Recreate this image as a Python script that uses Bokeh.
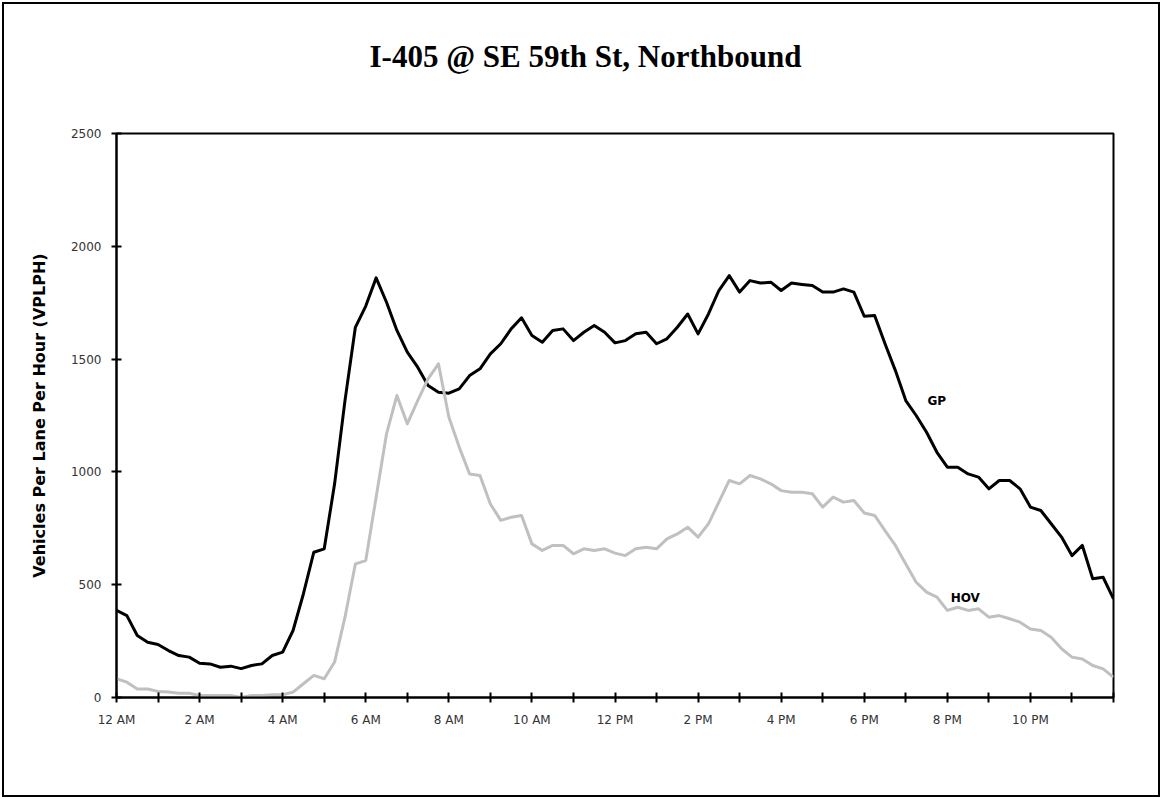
import numpy as np
from bokeh.plotting import figure
from bokeh.layouts import column
from bokeh.models import FixedTicker, Range1d, LinearAxis
from bokeh.core.properties import value
from bokeh.embed import file_html
from bokeh.resources import INLINE

# ---- data (15-minute samples) ----
hours = [i * 0.25 for i in range(97)]

gp = [386, 363, 275, 245, 235, 208, 186, 179,
      152, 149, 134, 139, 128, 142, 149, 186,
      201, 297, 460, 644, 659, 947, 1316, 1641,
      1735, 1860, 1752, 1627, 1531, 1464, 1383, 1353,
      1349, 1368, 1427, 1457, 1523, 1568, 1634, 1683,
      1605, 1575, 1627, 1634, 1582, 1619, 1649, 1619,
      1572, 1582, 1612, 1619, 1568, 1590, 1641, 1700,
      1612, 1700, 1804, 1870, 1797, 1848, 1837, 1841,
      1804, 1837, 1831, 1826, 1797, 1797, 1811, 1797,
      1690, 1693, 1568, 1449, 1316, 1250, 1176, 1087,
      1021, 1021, 991, 977, 925, 962, 962, 925,
      844, 829, 770, 711, 629, 674, 526, 533,
      437]

hov = [83, 68, 38, 38, 27, 24, 19, 19,
       9, 9, 9, 9, 0, 9, 9, 12,
       12, 24, 61, 98, 83, 157, 356, 592,
       607, 888, 1169, 1339, 1213, 1316, 1412, 1479,
       1243, 1110, 991, 984, 858, 785, 799, 807,
       681, 652, 674, 674, 637, 659, 652, 659,
       640, 629, 659, 666, 659, 703, 725, 755,
       711, 770, 866, 962, 947, 984, 969, 947,
       917, 910, 910, 903, 844, 888, 866, 873,
       818, 807, 740, 674, 592, 511, 467, 445,
       386, 400, 386, 393, 356, 363, 349, 334,
       304, 297, 267, 216, 179, 171, 142, 127,
       90]

x_ticks = list(range(25))
x_tick_labels = ["12 AM", "", "2 AM", "", "4 AM", "", "6 AM", "", "8 AM", "", "10 AM", "",
                 "12 PM", "", "2 PM", "", "4 PM", "", "6 PM", "", "8 PM", "", "10 PM", "", ""]
y_ticks = [0, 500, 1000, 1500, 2000, 2500]

title_text = "I-405 @ SE 59th St, Northbound"
y_label = "Vehicles Per Lane Per Hour (VPLPH)"

# ---- figure ----
W, H = 1154, 791
p = figure(width=W, height=H, output_backend="svg", toolbar_location=None,
           x_range=Range1d(0, 24), y_range=Range1d(0, 2500),
           min_border_left=112, min_border_right=45,
           min_border_top=129, min_border_bottom=98,
           background_fill_color="white", border_fill_color=None)

xax = p.below[0]
yax = p.left[0]

p.title.text = title_text
p.title.align = "left"
p.title.offset = 253
p.title.standoff = 0
p.title.text_font = "Liberation Serif"
p.title.text_font_style = "bold"
p.title.text_font_size = "31px"
p.title.text_color = "black"

p.xgrid.visible = False
p.ygrid.visible = False
p.outline_line_color = "black"
p.outline_line_width = 2
p.outline_line_alpha = 1

for ax in (xax, yax):
    ax.axis_line_width = 2
    ax.axis_line_color = "black"
    ax.major_tick_line_width = 2
    ax.major_tick_line_color = "black"
    ax.minor_tick_line_color = None
    ax.major_tick_in = 5
    ax.major_tick_out = 5
    ax.major_label_text_font = "DejaVu Sans"
    ax.major_label_text_font_size = "12px"
    ax.major_label_text_color = "#333333"

xax.ticker = FixedTicker(ticks=x_ticks)
xax.major_label_overrides = {t: lab for t, lab in zip(x_ticks, x_tick_labels)}
xax.major_label_standoff = 10

yax.ticker = FixedTicker(ticks=y_ticks)
yax.major_label_standoff = 10
yax.axis_label = y_label
yax.axis_label_text_font = "DejaVu Sans"
yax.axis_label_text_font_style = "bold"
yax.axis_label_text_font_size = "16px"
yax.axis_label_text_color = "black"
yax.axis_label_standoff = 19

# invisible spacer between the frame and the title (one hidden tick, no label)
spacer = LinearAxis(ticker=FixedTicker(ticks=[12]), axis_line_color=None,
                    major_tick_in=0, major_tick_out=60,
                    minor_tick_in=0, minor_tick_out=0,
                    major_tick_line_color=None, minor_tick_line_color=None,
                    major_label_standoff=0, major_label_overrides={12: ""},
                    major_label_text_font_size="1px")
p.add_layout(spacer, "above")

p.line(hours, gp, line_color="black", line_width=3, line_join="round")
p.line(hours, hov, line_color="#c0c0c0", line_width=3, line_join="round")

p.text(x=[19.52], y=[1316], text=["GP"], text_font=value("DejaVu Sans"),
       text_font_style="bold", text_font_size="12px", text_baseline="middle",
       text_align="left", text_color="black")
p.text(x=[20.08], y=[439], text=["HOV"], text_font=value("DejaVu Sans"),
       text_font_style="bold", text_font_size="12px", text_baseline="middle",
       text_align="left", text_color="black")

lay = column(p, styles={"border": "2px solid black",
                        "margin-left": "2px", "margin-top": "2px"})

open("out.html", "w").write(file_html(lay, INLINE))
